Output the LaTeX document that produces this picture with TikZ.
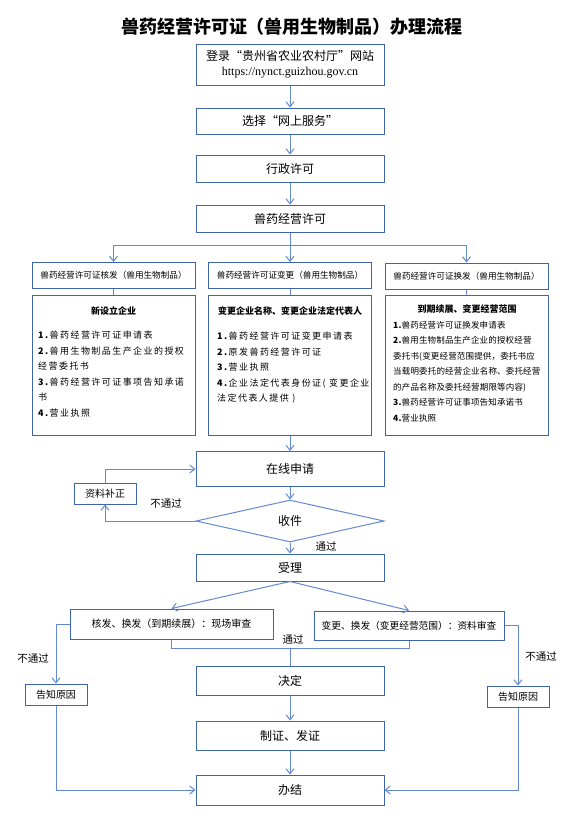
\documentclass[tikz,border=0pt]{standalone}
\usepackage{fontspec}
\setmainfont{Noto Sans CJK SC}
\newfontfamily\urlfont{Liberation Serif}
\usetikzlibrary{shapes.geometric,arrows.meta,positioning}
\definecolor{boxblue}{RGB}{62,100,176}
\definecolor{lineblue}{RGB}{98,137,210}

\begin{document}
\begin{tikzpicture}[
    x=1pt, y=-1pt,
    stage/.style={rectangle, draw=boxblue, line width=1pt, minimum width=188, minimum height=27, inner sep=0, font=\fontsize{12}{14}\selectfont},
    header/.style={rectangle, draw=boxblue, line width=1pt, minimum width=163, minimum height=26, inner sep=0, font=\fontsize{8.6}{10}\selectfont},
    docbox/.style={rectangle, draw=boxblue, line width=1pt, minimum width=163, minimum height=140, inner sep=0},
    doctitle/.style={inner sep=0, font=\fontsize{9}{11}\selectfont\bfseries},
    doclist/.style={anchor=north west, align=left, inner sep=0, font=\fontsize{9}{15.5}\selectfont\addfontfeature{LetterSpace=16}},
    smallbox/.style={rectangle, draw=boxblue, line width=1pt, minimum width=62, minimum height=21, inner sep=0, font=\fontsize{10}{12}\selectfont},
    review/.style={rectangle, draw=boxblue, line width=1pt, minimum height=30, inner sep=0, font=\fontsize{10}{12}\selectfont},
    check/.style={diamond, draw=lineblue, line width=1pt, minimum width=188, minimum height=42, inner sep=0, font=\fontsize{12}{14}\selectfont},
    tag/.style={inner sep=0, font=\fontsize{10.5}{12}\selectfont},
    flow/.style={draw=lineblue, line width=1pt, -{Straight Barb[length=5pt,width=8pt]}},
    link/.style={draw=lineblue, line width=1pt},
]
\useasboundingbox (0,0) rectangle (577,823);

% Title
\node[font=\fontsize{18}{20}\selectfont\bfseries] (title) at (292,27) {兽药经营许可证（兽用生物制品）办理流程};

% Main column, top part
\node[stage, minimum height=41, align=center, font=\fontsize{12}{15}\selectfont] (login) at (290,64.5) {登录“贵州省农业农村厅”网站\\{\urlfont https://nynct.guizhou.gov.cn}};
\node[stage, minimum height=26] (online) at (290,121) {选择“网上服务”};
\node[stage] (admin) at (290,168.5) {行政许可};
\node[stage] (permit) at (290,218.5) {兽药经营许可};

% Three kinds of permit
\node[header] (newhd) at (113.5,275.5) {兽药经营许可证核发（兽用生物制品）};
\node[header] (chghd) at (290,275.5) {兽药经营许可证变更（兽用生物制品）};
\node[header] (renhd) at (466.5,276) {兽药经营许可证换发（兽用生物制品）};

\node[docbox] (newdoc) at (113.5,365) {};
\node[docbox] (chgdoc) at (290,365) {};
\node[docbox] (rendoc) at (467,365) {};

\node[doctitle] (newtitle) at (113.5,311) {新设立企业};
\node[doclist] (newlist) at (38,331) {\textbf{1.}兽药经营许可证申请表\\
\textbf{2.}兽用生物制品生产企业的授权\\
经营委托书\\
\textbf{3.}兽药经营许可证事项告知承诺\\
书\\
\textbf{4.}营业执照};

\node[doctitle] (chgtitle) at (290,311) {变更企业名称、变更企业法定代表人};
\node[doclist] (chglist) at (217,332) {\textbf{1.}兽药经营许可证变更申请表\\
\textbf{2.}原发兽药经营许可证\\
\textbf{3.}营业执照\\
\textbf{4.}企业法定代表身份证( 变更企业\\
法定代表人提供 )};

\node[doctitle] (rentitle) at (467,309) {到期续展、变更经营范围};
\node[doclist, font=\fontsize{8.5}{15.5}\selectfont\addfontfeature{LetterSpace=2}] (renlist) at (393,321) {\textbf{1.}兽药经营许可证换发申请表\\
\textbf{2.}兽用生物制品生产企业的授权经营\\
委托书(变更经营范围提供，委托书应\\
当载明委托的经营企业名称、委托经营\\
的产品名称及委托经营期限等内容)\\
\textbf{3.}兽药经营许可证事项告知承诺书\\
\textbf{4.}营业执照};

% Application and receipt
\node[stage, minimum height=35] (apply) at (290,469) {在线申请};
\node[smallbox] (fix) at (105,493.5) {资料补正};
\node[check] (receive) at (290,521) {收件};
\node[stage] (accept) at (290,567.5) {受理};
\node[tag] (nopass1) at (166,504) {不通过};
\node[tag] (pass1) at (326,546) {通过};

% Review
\node[review, minimum width=203] (onsite) at (171.5,624) {核发、换发（到期续展）：现场审查};
\node[review, minimum width=190, minimum height=29, font=\fontsize{9.7}{12}\selectfont] (paper) at (409,625.5) {变更、换发（变更经营范围）：资料审查};
\node[tag] (pass2) at (293,639) {通过};
\node[tag] (nopass2) at (33,659) {不通过};
\node[tag] (nopass3) at (541,657) {不通过};

\node[smallbox] (leftinf) at (56,694.5) {告知原因};
\node[smallbox] (rightinf) at (518,696.5) {告知原因};

\node[stage, minimum height=29] (decide) at (290,680.5) {决定};
\node[stage, minimum height=29] (issue) at (290,735.5) {制证、发证};
\node[stage, minimum height=30] (finish) at (290,790) {办结};

% Connectors
\draw[flow] (login) -- (online);
\draw[flow] (online) -- (admin);
\draw[flow] (admin) -- (permit);
\coordinate (split) at (290,245);
\draw[link] (permit.south) -- (split);
\draw[flow] (split) -| (newhd.north);
\draw[flow] (split) -- (chghd.north);
\draw[flow] (split) -| (renhd.north);
\draw[link] (newhd) -- (newdoc);
\draw[link] (chghd) -- (chgdoc);
\draw[link] (renhd) -- (rendoc);

\draw[flow] (chgdoc) -- (apply);
\draw[flow] (apply) -- (receive);
\draw[flow] (receive.west) -| (fix.south);
\draw[flow] (fix.north) |- (apply.west);
\draw[flow] (receive) -- (accept);

\draw[flow] (accept.south) -- (onsite.north);
\draw[flow] (accept.south) -- (paper.north);
\coordinate (join) at (290,648);
\draw[link] (onsite.south) -- (onsite.south |- join) -- (paper.south |- join) -- (paper.south);
\draw[link] (join) -- (decide.north);
\draw[flow] (onsite.west) -| (leftinf.north);
\draw[flow] (paper.east) -| (rightinf.north);

\draw[flow] (decide) -- (issue);
\draw[flow] (issue) -- (finish);
\draw[flow] (leftinf.south) |- (finish.west);
\draw[flow] (rightinf.south) |- (finish.east);

\end{tikzpicture}
\end{document}
